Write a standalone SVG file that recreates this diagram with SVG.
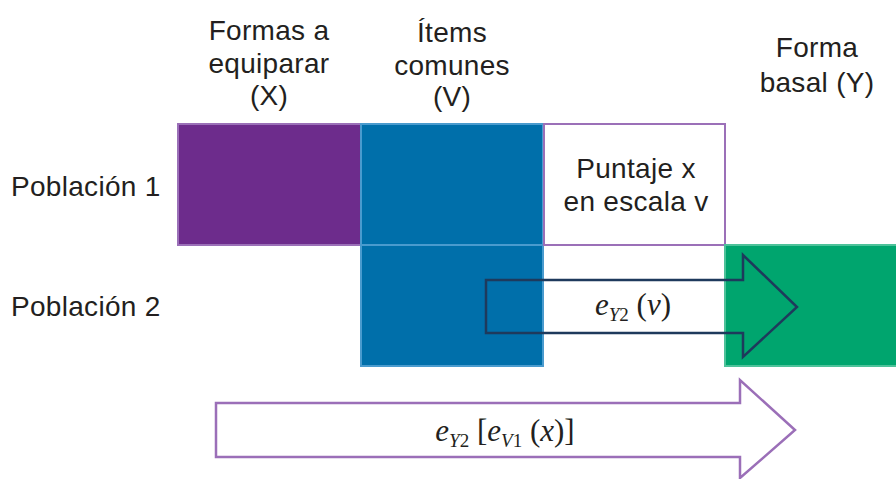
<svg xmlns="http://www.w3.org/2000/svg" width="896" height="479" viewBox="0 0 896 479">
<style>
.lbl{font-family:"Liberation Sans",Arial,sans-serif;font-size:28px;fill:#231F20;letter-spacing:0.3px}
.c{text-anchor:middle}
.m{font-family:"Liberation Serif","DejaVu Serif",serif;font-size:31px;fill:#231F20;font-style:italic}
.sub{font-size:19px}
.up{font-style:normal}
</style>
<rect width="896" height="479" fill="#fff"/>
<g id="header-x"><text class="lbl c" x="269" y="40">Formas a</text><text class="lbl c" x="269" y="73">equiparar</text><text class="lbl c" x="269" y="105">(X)</text></g>
<g id="header-v"><text class="lbl c" x="452" y="42">Ítems</text><text class="lbl c" x="452" y="75">comunes</text><text class="lbl c" x="452" y="106">(V)</text></g>
<g id="header-y"><text class="lbl c" x="817" y="57">Forma</text><text class="lbl c" x="817" y="92">basal (Y)</text></g>
<g id="row1"><text class="lbl" x="11" y="196">Población 1</text></g>
<g id="row2"><text class="lbl" x="11" y="316">Población 2</text></g>
<g id="form-x"><rect x="178" y="124" width="183" height="121" fill="#6D2C8C" stroke="#9B70B8" stroke-width="2"/></g>
<g id="common-v1"><rect x="361" y="124" width="182" height="121" fill="#006FAA" stroke="#4A9BCE" stroke-width="2"/></g>
<g id="common-v2"><rect x="361" y="245" width="182" height="121" fill="#006FAA" stroke="#4A9BCE" stroke-width="2"/></g>
<g id="score-box"><rect x="544" y="124" width="181" height="121" fill="#fff" stroke="#9B70B8" stroke-width="2"/><text class="lbl c" x="636" y="178">Puntaje x</text><text class="lbl c" x="636" y="211">en escala v</text></g>
<g id="form-y"><rect x="725" y="245" width="173" height="121" fill="#00A56E" stroke="#4DC29A" stroke-width="2"/></g>
<g id="connectors">
<path d="M486,280 H743 V255 L797,307 L743,357 V333 H486 Z" fill="none" stroke="#1E3A5C" stroke-width="2.5"/>
<text class="m c" x="633" y="315">e<tspan class="sub" dy="6">Y</tspan><tspan class="sub up">2</tspan><tspan dy="-6" class="up"> (</tspan>v<tspan class="up">)</tspan></text>
<path d="M216,403 H740 V380 L795,430 L740,478 V457 H216 Z" fill="#fff" stroke="#9B6FB8" stroke-width="2.5"/>
<text class="m c" x="505" y="441">e<tspan class="sub" dy="6">Y</tspan><tspan class="sub up">2</tspan><tspan dy="-6" class="up"> [</tspan>e<tspan class="sub" dy="6">V</tspan><tspan class="sub up">1</tspan><tspan dy="-6" class="up"> (</tspan>x<tspan class="up">)]</tspan></text>
</g>
</svg>
